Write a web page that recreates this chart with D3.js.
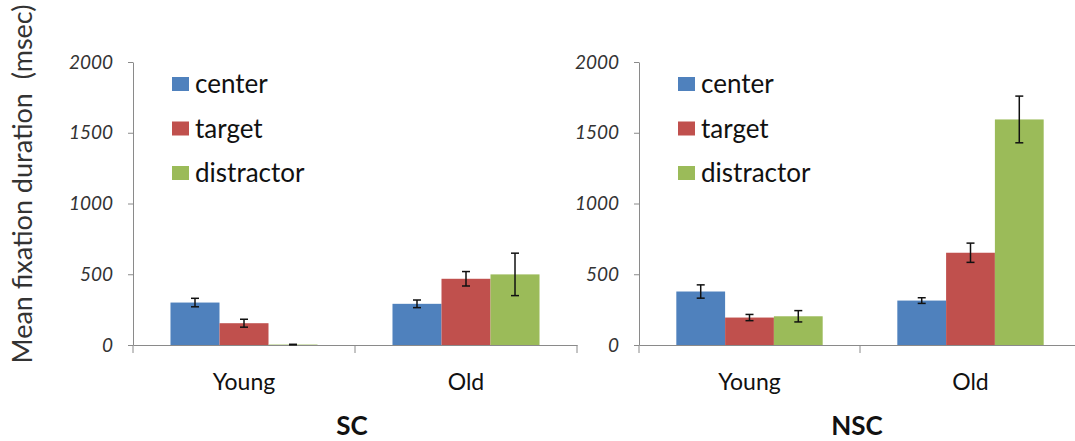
<!DOCTYPE html>
<html>
<head>
<meta charset="utf-8">
<script src="https://cdn.jsdelivr.net/npm/d3@7"></script>
<style>
  html, body { margin: 0; padding: 0; background: #fff; }
  svg { display: block; }
  text { font-family: Lato, "Open Sans", sans-serif; }
</style>
</head>
<body>
<svg id="chart" width="1075" height="441"></svg>
<script>
// Age groups on the x axis and the three fixation regions
const groups = ["Young", "Old"];
const series = ["center", "target", "distractor"];
const colors = ["#4F81BD", "#C0504D", "#9BBB59"];
const yTicks = [0, 500, 1000, 1500, 2000];

// SC condition: mean fixation duration (msec) per series, [Young, Old]
const scCenter = [300, 291];
const scTarget = [154, 468];
const scDistractor = [3, 499];
const scCenterErr = [30, 27];
const scTargetErr = [28, 51];
const scDistractorErr = [2, 150];

// NSC condition
const nscCenter = [378, 314];
const nscTarget = [194, 652];
const nscDistractor = [203, 1594];
const nscCenterErr = [47, 20];
const nscTargetErr = [22, 68];
const nscDistractorErr = [40, 165];

const panels = [
  { title: "SC", left: 133, right: 577,
    values: [scCenter, scTarget, scDistractor],
    errors: [scCenterErr, scTargetErr, scDistractorErr] },
  { title: "NSC", left: 639, right: 1081,
    values: [nscCenter, nscTarget, nscDistractor],
    errors: [nscCenterErr, nscTargetErr, nscDistractorErr] }
];

const svg = d3.select("#chart");
const y = d3.scaleLinear().domain([0, 2000]).range([345, 62]);
const axisColor = "#8a8a8a";

// Shared y-axis title
svg.append("text")
  .attr("transform", "translate(32,184) rotate(-90)")
  .attr("text-anchor", "middle")
  .attr("font-size", 27)
  .attr("fill", "#333")
  .text("Mean fixation duration\u00a0\u00a0(msec)");

panels.forEach(p => {
  const g = svg.append("g");
  const x = d3.scaleBand().domain(groups).range([p.left, p.right]).padding(0);
  const xs = d3.scaleBand().domain(series).range([0, x.bandwidth()])
    .paddingInner(0).paddingOuter(0.765);

  // y axis
  const ya = g.append("g")
    .attr("transform", `translate(${p.left},0)`)
    .call(d3.axisLeft(y).tickValues(yTicks).tickFormat(d3.format("d"))
      .tickSize(5).tickPadding(15).tickSizeOuter(0));
  ya.select(".domain").attr("stroke", axisColor);
  ya.selectAll(".tick line").attr("stroke", axisColor);
  ya.selectAll(".tick text")
    .attr("font-size", 19)
    .attr("font-style", "italic")
    .attr("font-family", "Lato, 'Open Sans', sans-serif")
    .attr("fill", "#333");

  // x axis with category labels
  const xa = g.append("g")
    .attr("transform", `translate(0,${y(0)})`)
    .call(d3.axisBottom(x).tickSize(0).tickPadding(29).tickSizeOuter(0));
  xa.select(".domain").attr("stroke", axisColor);
  xa.selectAll(".tick text")
    .attr("font-size", 23)
    .attr("font-family", "Lato, 'Open Sans', sans-serif")
    .attr("fill", "#111");

  // separator ticks at category boundaries
  const bounds = groups.map(d => x(d)).concat([x(groups[groups.length - 1]) + x.bandwidth()]);
  g.selectAll(".sep").data(bounds).join("line")
    .attr("x1", d => d).attr("x2", d => d)
    .attr("y1", y(0)).attr("y2", y(0) + 8)
    .attr("stroke", axisColor);

  // bars with error bars
  series.forEach((s, si) => {
    groups.forEach((grp, gi) => {
      const v = p.values[si][gi];
      const e = p.errors[si][gi];
      const bx = x(grp) + xs(s);
      g.append("rect")
        .attr("x", bx)
        .attr("y", y(v))
        .attr("width", xs.bandwidth())
        .attr("height", y(0) - y(v))
        .attr("fill", colors[si]);
      const cx = bx + xs.bandwidth() / 2;
      const eb = g.append("g").attr("stroke", "#111").attr("stroke-width", 1.5);
      eb.append("line").attr("x1", cx).attr("x2", cx).attr("y1", y(v + e)).attr("y2", y(Math.max(0, v - e)));
      eb.append("line").attr("x1", cx - 4).attr("x2", cx + 4).attr("y1", y(v + e)).attr("y2", y(v + e));
      eb.append("line").attr("x1", cx - 4).attr("x2", cx + 4).attr("y1", y(Math.max(0, v - e))).attr("y2", y(Math.max(0, v - e)));
    });
  });

  // legend
  const lg = g.append("g").attr("transform", `translate(${p.left + 39},0)`);
  series.forEach((s, si) => {
    const cy = 84 + si * 44.5;
    lg.append("rect").attr("x", 0).attr("y", cy - 7).attr("width", 17).attr("height", 14).attr("fill", colors[si]);
    lg.append("text").attr("x", 23).attr("y", cy).attr("dy", "0.35em")
      .attr("font-size", 26).attr("fill", "#111").text(s);
  });

  // panel title
  g.append("text")
    .attr("x", (p.left + p.right) / 2 - 3)
    .attr("y", 435)
    .attr("text-anchor", "middle")
    .attr("font-size", 26)
    .attr("font-weight", "bold")
    .attr("fill", "#111")
    .text(p.title);
});
</script>
</body>
</html>
